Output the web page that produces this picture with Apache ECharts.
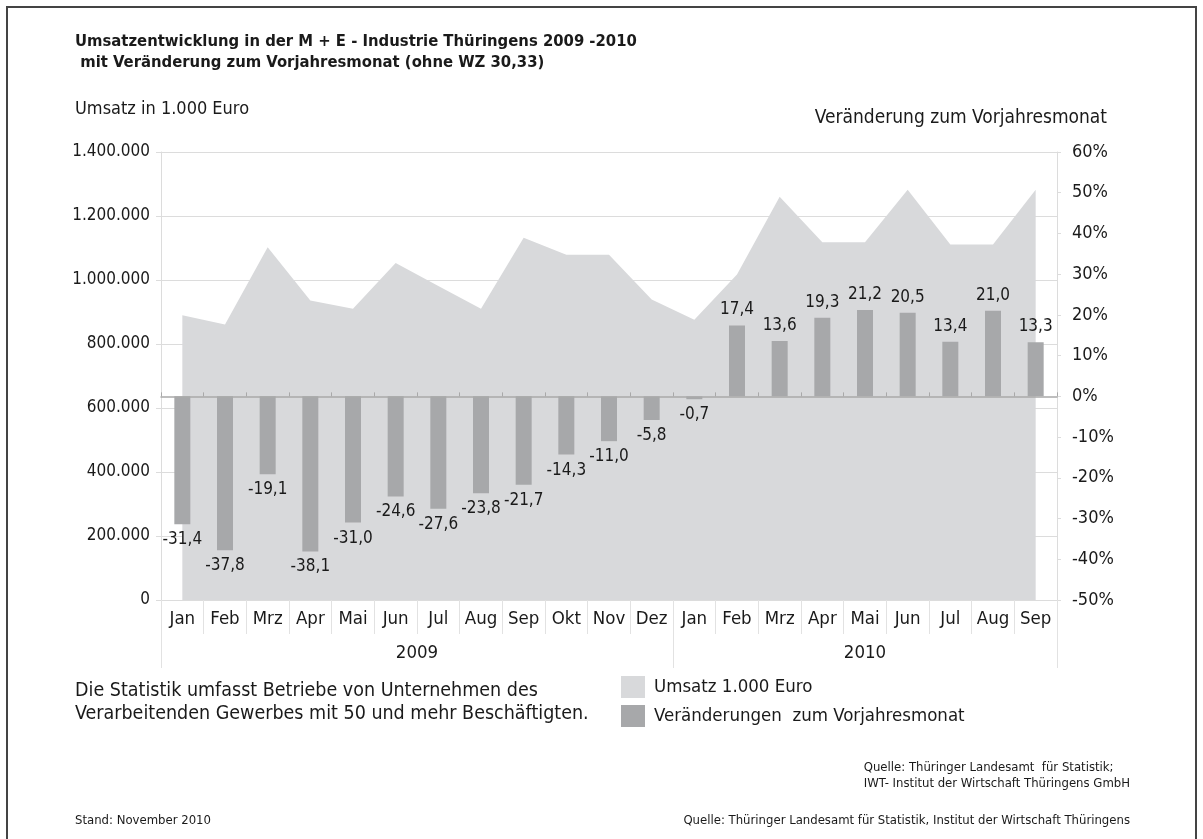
<!DOCTYPE html>
<html>
<head>
<meta charset="utf-8">
<title>Umsatzentwicklung M + E Thüringen</title>
<script src="https://cdn.jsdelivr.net/npm/echarts@6/dist/echarts.min.js"></script>
<style>
  html, body { margin: 0; padding: 0; background: #fff; }
  #chart { width: 1203px; height: 839px; }
</style>
</head>
<body>
<div id="chart"></div>
<script>
// Monate Jan 2009 - Sep 2010
const months = ['Jan', 'Feb', 'Mrz', 'Apr', 'Mai', 'Jun', 'Jul', 'Aug', 'Sep', 'Okt', 'Nov', 'Dez',
  'Jan', 'Feb', 'Mrz', 'Apr', 'Mai', 'Jun', 'Jul', 'Aug', 'Sep']
// Umsatz in 1.000 Euro
const umsatz = [890000, 861000, 1102000, 936000, 910000, 1053000, 981000, 910000, 1132000, 1079000, 1079000, 939000,
  876000, 1017000, 1260000, 1118000, 1118000, 1282000, 1111000, 1111000, 1282000]
// Veränderung zum Vorjahresmonat in %
const veraenderung = [-31.4, -37.8, -19.1, -38.1, -31.0, -24.6, -27.6, -23.8, -21.7, -14.3, -11.0, -5.8,
  -0.7, 17.4, 13.6, 19.3, 21.2, 20.5, 13.4, 21.0, 13.3]
// Jahresbeschriftung: Grenzen und Mitte der Jahresblöcke (in Monatsindex)
const yearBounds = [0, 12, 21]
const yearCenters = [6, 16.5]
const years = ['2009', '2010']

const FONT = "'Liberation Sans Narrow', 'DejaVu Sans Condensed', sans-serif"
const TEXT = '#1a1a1a'
const GRID_LINE = '#dcdcdc'

const chart = echarts.init(document.getElementById('chart'))

function tausender(v) {
  return String(v).replace(/\B(?=(\d{3})+(?!\d))/g, '.')
}

let option = {
  animation: false,
  backgroundColor: '#fff',
  textStyle: { fontFamily: FONT, color: TEXT },
  title: {
    text: 'Umsatzentwicklung in der M + E - Industrie Thüringens 2009 -2010\n mit Veränderung zum Vorjahresmonat (ohne WZ 30,33)',
    left: 75,
    top: 31,
    padding: 0,
    textStyle: { fontFamily: FONT, fontSize: 16.5, fontWeight: 'bold', lineHeight: 21, color: TEXT },
  },
  legend: {
    orient: 'vertical',
    left: 621,
    top: 676,
    padding: 0,
    itemWidth: 24,
    itemHeight: 22,
    itemGap: 7,
    icon: 'rect',
    textStyle: { fontFamily: FONT, fontSize: 18.5, color: TEXT, padding: [0, 0, 0, 4] },
    data: ['Umsatz 1.000 Euro', 'Veränderungen  zum Vorjahresmonat'],
  },
  grid: { left: 161, right: 146, top: 152, bottom: 239, containLabel: false },
  xAxis: [
    {
      // Monatsbeschriftung unten
      type: 'category',
      data: months,
      position: 'bottom',
      axisLine: { onZero: false, lineStyle: { color: GRID_LINE } },
      axisTick: { show: true, interval: 0, length: 34, lineStyle: { color: '#e2e2e2' } },
      axisLabel: { interval: 0, margin: 10, fontSize: 18.5, color: TEXT },
    },
    {
      // Jahreszeile
      type: 'value',
      min: 0,
      max: 21,
      position: 'bottom',
      splitLine: { show: false },
      axisLine: { show: false, onZero: false },
      axisTick: { show: true, customValues: yearBounds, length: 68, lineStyle: { color: '#e2e2e2' } },
      axisLabel: {
        customValues: yearCenters,
        margin: 44,
        fontSize: 18.5,
        color: TEXT,
        formatter: (v) => (v < 12 ? years[0] : years[1]),
      },
    },
    {
      // Nulllinie der Veränderung
      type: 'category',
      data: months,
      z: 5,
      axisLine: { show: true, onZero: true, onZeroAxisIndex: 1, lineStyle: { color: '#a9a9a9', width: 1.5 } },
      axisTick: { show: true, interval: 0, length: 4, lineStyle: { color: '#a9a9a9' } },
      axisLabel: { show: false },
    },
  ],
  yAxis: [
    {
      type: 'value',
      min: 0,
      max: 1400000,
      interval: 200000,
      position: 'left',
      axisLine: { show: true, lineStyle: { color: GRID_LINE } },
      axisTick: { show: true, length: 5, lineStyle: { color: GRID_LINE } },
      splitLine: { lineStyle: { color: GRID_LINE } },
      axisLabel: { margin: 11, fontSize: 17, color: TEXT, formatter: tausender },
    },
    {
      type: 'value',
      min: -50,
      max: 60,
      interval: 10,
      position: 'right',
      axisLine: { show: true, lineStyle: { color: GRID_LINE } },
      axisTick: { show: true, length: 4, lineStyle: { color: GRID_LINE } },
      splitLine: { show: false },
      axisLabel: { margin: 15, fontSize: 18, color: TEXT, formatter: '{value}%' },
    },
  ],
  series: [
    {
      name: 'Umsatz 1.000 Euro',
      type: 'line',
      xAxisIndex: 0,
      yAxisIndex: 0,
      z: 1,
      data: umsatz,
      symbol: 'none',
      lineStyle: { width: 0 },
      itemStyle: { color: '#d8d9db' },
      areaStyle: { color: '#d8d9db', opacity: 1 },
    },
    {
      name: 'Veränderungen  zum Vorjahresmonat',
      type: 'bar',
      xAxisIndex: 2,
      yAxisIndex: 1,
      z: 3,
      barWidth: 16,
      itemStyle: { color: '#a7a8aa' },
      label: {
        show: true,
        fontSize: 17,
        color: TEXT,
        distance: 7,
        formatter: (p) => p.value.toFixed(1).replace('.', ','),
      },
      data: veraenderung.map((v) => ({
        value: v,
        label: { position: v < 0 ? 'bottom' : 'top' },
      })),
    },
  ],
  graphic: [
    {
      type: 'rect',
      silent: true,
      shape: { x: 7, y: 7, width: 1189, height: 860 },
      style: { fill: 'none', stroke: '#444', lineWidth: 2 },
    },
    {
      type: 'text',
      left: 75,
      top: 100,
      style: { text: 'Umsatz in 1.000 Euro', font: '18px ' + FONT, fill: TEXT },
    },
    {
      type: 'text',
      right: 96,
      top: 109,
      style: { text: 'Veränderung zum Vorjahresmonat', font: '19px ' + FONT, fill: TEXT },
    },
    {
      type: 'text',
      left: 75,
      top: 679,
      style: {
        text: 'Die Statistik umfasst Betriebe von Unternehmen des\nVerarbeitenden Gewerbes mit 50 und mehr Beschäftigten.',
        font: '19.5px ' + FONT,
        lineHeight: 23,
        fill: TEXT,
      },
    },
    {
      type: 'text',
      right: 73,
      top: 760,
      style: {
        text: 'Quelle: Thüringer Landesamt  für Statistik;\nIWT- Institut der Wirtschaft Thüringens GmbH',
        font: '13px ' + FONT,
        lineHeight: 16,
        align: 'right',
        fill: TEXT,
      },
    },
    {
      type: 'text',
      left: 75,
      top: 814,
      style: { text: 'Stand: November 2010', font: '13px ' + FONT, fill: TEXT },
    },
    {
      type: 'text',
      right: 73,
      top: 814,
      style: {
        text: 'Quelle: Thüringer Landesamt für Statistik, Institut der Wirtschaft Thüringens',
        font: '13px ' + FONT,
        align: 'right',
        fill: TEXT,
      },
    },
  ],
}

option && chart.setOption(option)
window.onresize = chart.resize
</script>
</body>
</html>
